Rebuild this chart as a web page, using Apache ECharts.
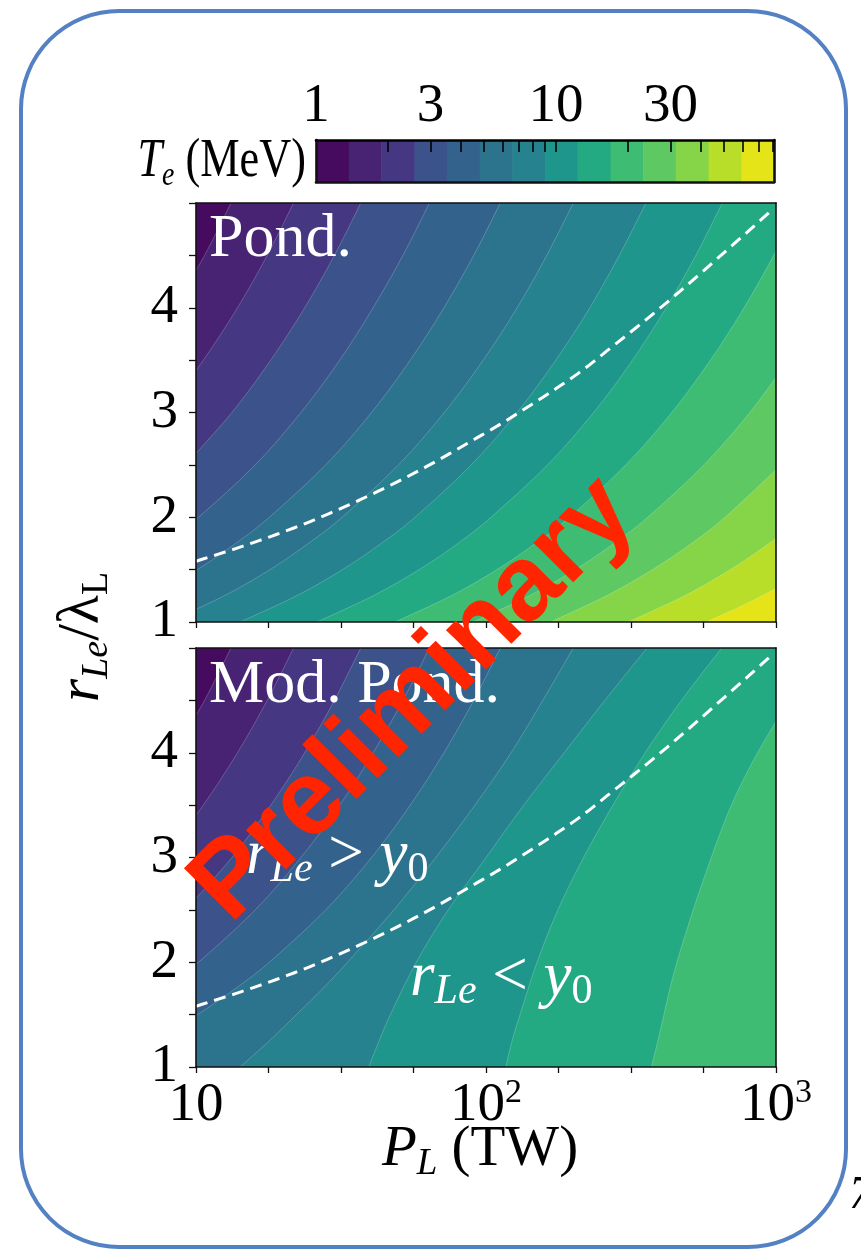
<!DOCTYPE html>
<html>
<head>
<meta charset="utf-8">
<script src="https://cdn.jsdelivr.net/npm/echarts@6/dist/echarts.min.js"></script>
<style>
html, body { margin: 0; padding: 0; background: #fff; }
#chart { width: 861px; height: 1258px; }
</style>
</head>
<body>
<div id="chart"></div>
<script>
// colorbar: T_e levels (MeV), log spaced, and the colour of each band
var levelsMeV = [1, 1.37, 1.87, 2.57, 3.51, 4.81, 6.58, 9.01, 12.3, 16.9, 23.1, 31.6, 43.3, 59.3, 81.1];
var bandColors = ['#460b5e', '#482374', '#453781', '#3b528b', '#33638d', '#2c738e', '#26828e',
                  '#1f968b', '#24aa83', '#3fbc73', '#5ec962', '#86d549', '#b8de29', '#e5e419'];
var cbarLabels = [1, 3, 10, 30];
var cbarTicks = [2, 3, 4, 5, 6, 7, 8, 9, 10, 20, 30, 40, 50, 60, 70, 80];
var xLabelPowers = [1, 2, 3];

// contour lines, [P_L (TW), r_Le/lambda_L]; line k separates band k and band k+1
var pondBounds = [
  [[8.4, 4], [10.7, 4.5], [13.2, 5]],
  [[7.8, 3], [10.6, 3.5], [13.9, 4], [17.6, 4.5], [21.7, 5]],
  [[9.2, 2.5], [13.3, 3], [18.1, 3.5], [23.7, 4], [30, 4.5], [37, 5]],
  [[5.7, 1.5], [7.8, 1.75], [10.2, 2], [16, 2.5], [23, 3], [31.3, 3.5], [40.8, 4], [51.7, 4.5], [63.8, 5]],
  [[7, 1.25], [10.1, 1.5], [13.7, 1.75], [17.9, 2], [28, 2.5], [40.3, 3], [54.8, 3.5], [71.6, 4], [90.7, 4.5], [112, 5]],
  [[8, 1], [12.5, 1.25], [18, 1.5], [24.4, 1.75], [31.9, 2], [49.9, 2.5], [71.8, 3], [97.8, 3.5], [128, 4], [162, 4.5], [200, 5]],
  [[14.2, 1], [22.2, 1.25], [32, 1.5], [43.5, 1.75], [56.9, 2], [88.9, 2.5], [128, 3], [174, 3.5], [228, 4], [288, 4.5], [356, 5]],
  [[26.1, 1], [40.8, 1.25], [58.8, 1.5], [80, 1.75], [104, 2], [163, 2.5], [235, 3], [320, 3.5], [418, 4], [529, 4.5], [653, 5]],
  [[48.5, 1], [75.8, 1.25], [109, 1.5], [148, 1.75], [194, 2], [303, 2.5], [437, 3], [594, 3.5], [776, 4], [982, 4.5], [1213, 5]],
  [[90.2, 1], [141, 1.25], [203, 1.5], [276, 1.75], [361, 2], [564, 2.5], [812, 3], [1105, 3.5]],
  [[167, 1], [260, 1.25], [375, 1.5], [511, 1.75], [667, 2], [1042, 2.5]],
  [[309, 1], [483, 1.25], [695, 1.5], [946, 1.75], [1236, 2]],
  [[573, 1], [725, 1.125], [895, 1.25], [1083, 1.375]]
];
var modBounds = [
  [[8.4, 4], [10.7, 4.5], [13.2, 5]],
  [[7.8, 3], [10.6, 3.5], [13.9, 4], [17.6, 4.5], [21.7, 5]],
  [[9.2, 2.5], [13.3, 3], [18.1, 3.5], [23.7, 4], [30, 4.5], [37, 5]],
  [[5.7, 1.5], [7.8, 1.75], [10.2, 2], [16, 2.5], [23, 3], [31.3, 3.5], [40.8, 4], [51.7, 4.5], [63.8, 5]],
  [[7, 1.25], [10.1, 1.5], [13.7, 1.75], [17.9, 2], [28, 2.5], [40.3, 3], [54.8, 3.5], [71.6, 4], [90.7, 4.5], [112, 5]],
  [[14.2, 1], [17.9, 1.25], [22.2, 1.5], [27.4, 1.75], [33.3, 2], [48.1, 2.5], [67.1, 3], [91.6, 3.5], [122, 4], [157, 4.5], [200, 5]],
  [[39.4, 1], [42.8, 1.25], [46.8, 1.5], [57.5, 2], [74.1, 2.5], [100, 3], [135, 3.5], [186, 4], [257, 4.5], [359, 5]],
  [[117, 1], [123, 1.25], [131, 1.5], [150, 2], [177, 2.5], [217, 3], [274, 3.5], [354, 4], [472, 4.5], [650, 5]],
  [[372, 1], [400, 1.36], [439, 1.84], [494, 2.32], [574, 2.86], [687, 3.44], [822, 3.89], [1000, 4.3], [1216, 4.69]]
];

// dashed r_Le = y0 curve
var y0P = [10, 15.1, 23.8, 37, 59.2, 93.3, 125, 200, 270, 408, 634, 984];
var y0R = [1.58, 1.74, 1.94, 2.17, 2.45, 2.76, 2.97, 3.34, 3.62, 4.02, 4.48, 4.95];

var SERIF = '"Liberation Serif", "Times New Roman", serif';
var lg = Math.log10;

var chart = echarts.init(document.getElementById('chart'));

// catmull-rom through the read points, in pixel space, so the contour edges are not kinked
function smoothPts(pts) {
  var n = pts.length;
  if (n < 3) return pts;
  var out = [];
  for (var i = 0; i < n - 1; i++) {
    var p0 = pts[Math.max(i - 1, 0)], p1 = pts[i], p2 = pts[i + 1], p3 = pts[Math.min(i + 2, n - 1)];
    for (var s = 0; s < 10; s++) {
      var t = s / 10, t2 = t * t, t3 = t2 * t;
      out.push([0, 1].map(function (d) {
        return 0.5 * (2 * p1[d] + (-p0[d] + p2[d]) * t + (2 * p0[d] - 5 * p1[d] + 4 * p2[d] - p3[d]) * t2 +
          (-p0[d] + 3 * p1[d] - 3 * p2[d] + p3[d]) * t3);
      }));
    }
  }
  out.push(pts[n - 1]);
  return out;
}

function frameAxis(grid, pos, width) {
  return {
    type: 'value', gridIndex: grid, position: pos, min: 0, max: 1, z: 10,
    axisLine: { show: true, onZero: false, lineStyle: { color: '#111', width: width || 1.6 } },
    axisTick: { show: false }, axisLabel: { show: false }, splitLine: { show: false }
  };
}

function panelX(grid, labels) {
  return {
    type: 'value', gridIndex: grid, position: 'bottom', min: 1, max: 3, interval: 0.25, z: 10,
    axisLine: { show: true, onZero: false, lineStyle: { color: '#111', width: 1.6 } },
    axisTick: { show: true, length: 6, lineStyle: { color: '#111', width: 1.3 } },
    axisLabel: {
      show: labels, margin: 9, color: '#000', fontFamily: SERIF, fontSize: 55,
      formatter: function (v) {
        for (var i = 0; i < xLabelPowers.length; i++) {
          if (Math.abs(v - xLabelPowers[i]) < 1e-6) {
            return xLabelPowers[i] === 1 ? '{b|10}' : '{b|10}{s|' + xLabelPowers[i] + '}';
          }
        }
        return '';
      },
      rich: {
        b: { fontFamily: SERIF, fontSize: 55, color: '#000', lineHeight: 60 },
        s: { fontFamily: SERIF, fontSize: 34, color: '#000', lineHeight: 24, verticalAlign: 'top' }
      }
    },
    splitLine: { show: false }
  };
}

function panelY(grid) {
  return {
    type: 'value', gridIndex: grid, position: 'left', min: 1, max: 5, interval: 0.5, z: 10,
    axisLine: { show: true, onZero: false, lineStyle: { color: '#111', width: 1.6 } },
    axisTick: { show: true, length: 7, lineStyle: { color: '#111', width: 1.3 } },
    axisLabel: {
      margin: 18, color: '#000', fontFamily: SERIF, fontSize: 55,
      formatter: function (v) { return (Math.abs(v - Math.round(v)) < 1e-6 && v < 5) ? String(Math.round(v)) : ''; }
    },
    splitLine: { show: false }
  };
}

function contourSeries(bounds, axis) {
  return {
    type: 'custom', xAxisIndex: axis, yAxisIndex: axis, clip: true, silent: true, z: 2,
    data: bounds.map(function (b, i) { return [i]; }),
    encode: { x: -1, y: -1 },
    renderItem: function (params, api) {
      var k = params.dataIndex;
      var b = bounds[k];
      var line = smoothPts(b.map(function (p) { return api.coord([lg(p[0]), p[1]]); }));
      var first = b[0], last = b[b.length - 1];
      var poly = line.concat([
        api.coord([6, last[1]]), api.coord([6, -1]), api.coord([lg(first[0]), -1])
      ]);
      return {
        type: 'group',
        children: [
          { type: 'polygon', z2: k * 2, shape: { points: poly }, style: { fill: bandColors[k + 1] } },
          { type: 'polyline', z2: k * 2 + 1, shape: { points: line },
            style: { stroke: 'rgba(255,255,255,0.3)', lineWidth: 0.7, fill: null } }
        ]
      };
    }
  };
}

function y0Series(axis) {
  return {
    type: 'custom', xAxisIndex: axis, yAxisIndex: axis, clip: true, silent: true, z: 5,
    data: [[0]],
    encode: { x: -1, y: -1 },
    renderItem: function (params, api) {
      var pts = smoothPts(y0P.map(function (p, i) { return api.coord([lg(p), y0R[i]]); }));
      return {
        type: 'polyline', shape: { points: pts },
        style: { stroke: '#ffffff', lineWidth: 3, lineDash: [12, 7], fill: null }
      };
    }
  };
}

var subText = function (size, color, italic) {
  return { fontFamily: SERIF, fontStyle: italic ? 'italic' : 'normal', fontSize: size, fill: color, lineHeight: 22, verticalAlign: 'bottom' };
};
var mainText = function (size, color, italic, lh) {
  return { fontFamily: SERIF, fontStyle: italic ? 'italic' : 'normal', fontSize: size, fill: color, lineHeight: lh };
};

var option = {
  backgroundColor: '#ffffff',
  animation: false,
  grid: [
    { left: 316, top: 140, width: 458, height: 42 },
    { left: 196, top: 203, width: 580, height: 419, show: true, backgroundColor: bandColors[0], borderWidth: 0 },
    { left: 196, top: 648, width: 580, height: 419, show: true, backgroundColor: bandColors[0], borderWidth: 0 }
  ],
  xAxis: [
    {
      type: 'value', gridIndex: 0, position: 'top', min: 0, max: lg(levelsMeV[levelsMeV.length - 1]), z: 10,
      axisLine: { show: true, onZero: false, lineStyle: { color: '#000', width: 2.6 } },
      axisTick: { show: true, inside: true, length: 12, customValues: cbarTicks.map(lg),
                  lineStyle: { color: '#000', width: 1.6 } },
      axisLabel: {
        show: true, margin: 6, color: '#000', fontFamily: SERIF, fontSize: 55,
        customValues: cbarLabels.map(lg),
        formatter: function (v) { return String(Math.round(Math.pow(10, v))); }
      },
      splitLine: { show: false }
    },
    frameAxis(0, 'bottom', 2.6),
    panelX(1, false),
    frameAxis(1, 'top'),
    panelX(2, true),
    frameAxis(2, 'top')
  ],
  yAxis: [
    frameAxis(0, 'left', 2.6),
    frameAxis(0, 'right', 2.6),
    panelY(1),
    frameAxis(1, 'right'),
    panelY(2),
    frameAxis(2, 'right')
  ],
  series: [
    {
      type: 'custom', xAxisIndex: 0, yAxisIndex: 0, silent: true, z: 2,
      data: bandColors.map(function (c, i) { return [i]; }),
      encode: { x: -1, y: -1 },
      renderItem: function (params, api) {
        var i = params.dataIndex;
        var p0 = api.coord([lg(levelsMeV[i]), 1]);
        var p1 = api.coord([lg(levelsMeV[i + 1]), 0]);
        return {
          type: 'rect',
          shape: { x: p0[0], y: p0[1], width: p1[0] - p0[0] + 0.6, height: p1[1] - p0[1] },
          style: { fill: bandColors[i] }
        };
      }
    },
    contourSeries(pondBounds, 2),
    y0Series(2),
    contourSeries(modBounds, 4),
    y0Series(4)
  ],
  graphic: [
    {
      type: 'rect', z: 100, silent: true,
      shape: { x: 21, y: 11, width: 825, height: 1236, r: 98 },
      style: { fill: null, stroke: '#5381c3', lineWidth: 4 }
    },
    {
      type: 'text', z: 100, x: 306, y: 162, scaleX: 0.82,
      style: {
        text: '{i|T}{sub|e}{n| (MeV)}', align: 'right', verticalAlign: 'middle',
        rich: { i: mainText(54, '#000', true, 62), sub: subText(34, '#000', true), n: mainText(54, '#000', false, 62) }
      }
    },
    {
      type: 'text', z: 100, x: 82, y: 637, rotation: Math.PI / 2,
      style: {
        text: '{i|r}{isub|Le}{n|/λ}{sub|L}', align: 'center', verticalAlign: 'middle',
        rich: { i: mainText(60, '#000', true, 68), isub: subText(38, '#000', true),
                n: mainText(60, '#000', false, 68), sub: subText(38, '#000', false) }
      }
    },
    {
      type: 'text', z: 100, x: 480, y: 1150,
      style: {
        text: '{i|P}{isub|L}{n| (TW)}', align: 'center', verticalAlign: 'middle',
        rich: { i: mainText(57, '#000', true, 66), isub: subText(37, '#000', true), n: mainText(57, '#000', false, 66) }
      }
    },
    {
      type: 'text', z: 100, x: 209, y: 240,
      style: { text: 'Pond.', fontFamily: SERIF, fontSize: 62, fill: '#fff', verticalAlign: 'middle' }
    },
    {
      type: 'text', z: 100, x: 209, y: 686,
      style: { text: 'Mod. Pond.', fontFamily: SERIF, fontSize: 62, fill: '#fff', verticalAlign: 'middle' }
    },
    {
      type: 'text', z: 100, x: 246, y: 856,
      style: {
        text: '{i|r}{isub|Le}{n| > }{i|y}{sub|0}', verticalAlign: 'middle',
        rich: { i: mainText(63, '#fff', true, 70), isub: subText(42, '#fff', true),
                n: mainText(63, '#fff', false, 70), sub: subText(42, '#fff', false) }
      }
    },
    {
      type: 'text', z: 100, x: 410, y: 978,
      style: {
        text: '{i|r}{isub|Le}{n| < }{i|y}{sub|0}', verticalAlign: 'middle',
        rich: { i: mainText(63, '#fff', true, 70), isub: subText(42, '#fff', true),
                n: mainText(63, '#fff', false, 70), sub: subText(42, '#fff', false) }
      }
    },
    {
      type: 'text', z: 200, x: 414, y: 700, rotation: Math.PI / 4,
      style: {
        text: 'Preliminary', fontFamily: '"Liberation Sans", Arial, sans-serif', fontWeight: 'bold',
        fontSize: 106, fill: '#ff2500', align: 'center', verticalAlign: 'middle'
      }
    },
    {
      type: 'text', z: 100, x: 849, y: 1196,
      style: { text: '7', fontFamily: SERIF, fontStyle: 'italic', fontSize: 46, fill: '#000', verticalAlign: 'middle' }
    }
  ]
};

chart.setOption(option);
</script>
</body>
</html>
